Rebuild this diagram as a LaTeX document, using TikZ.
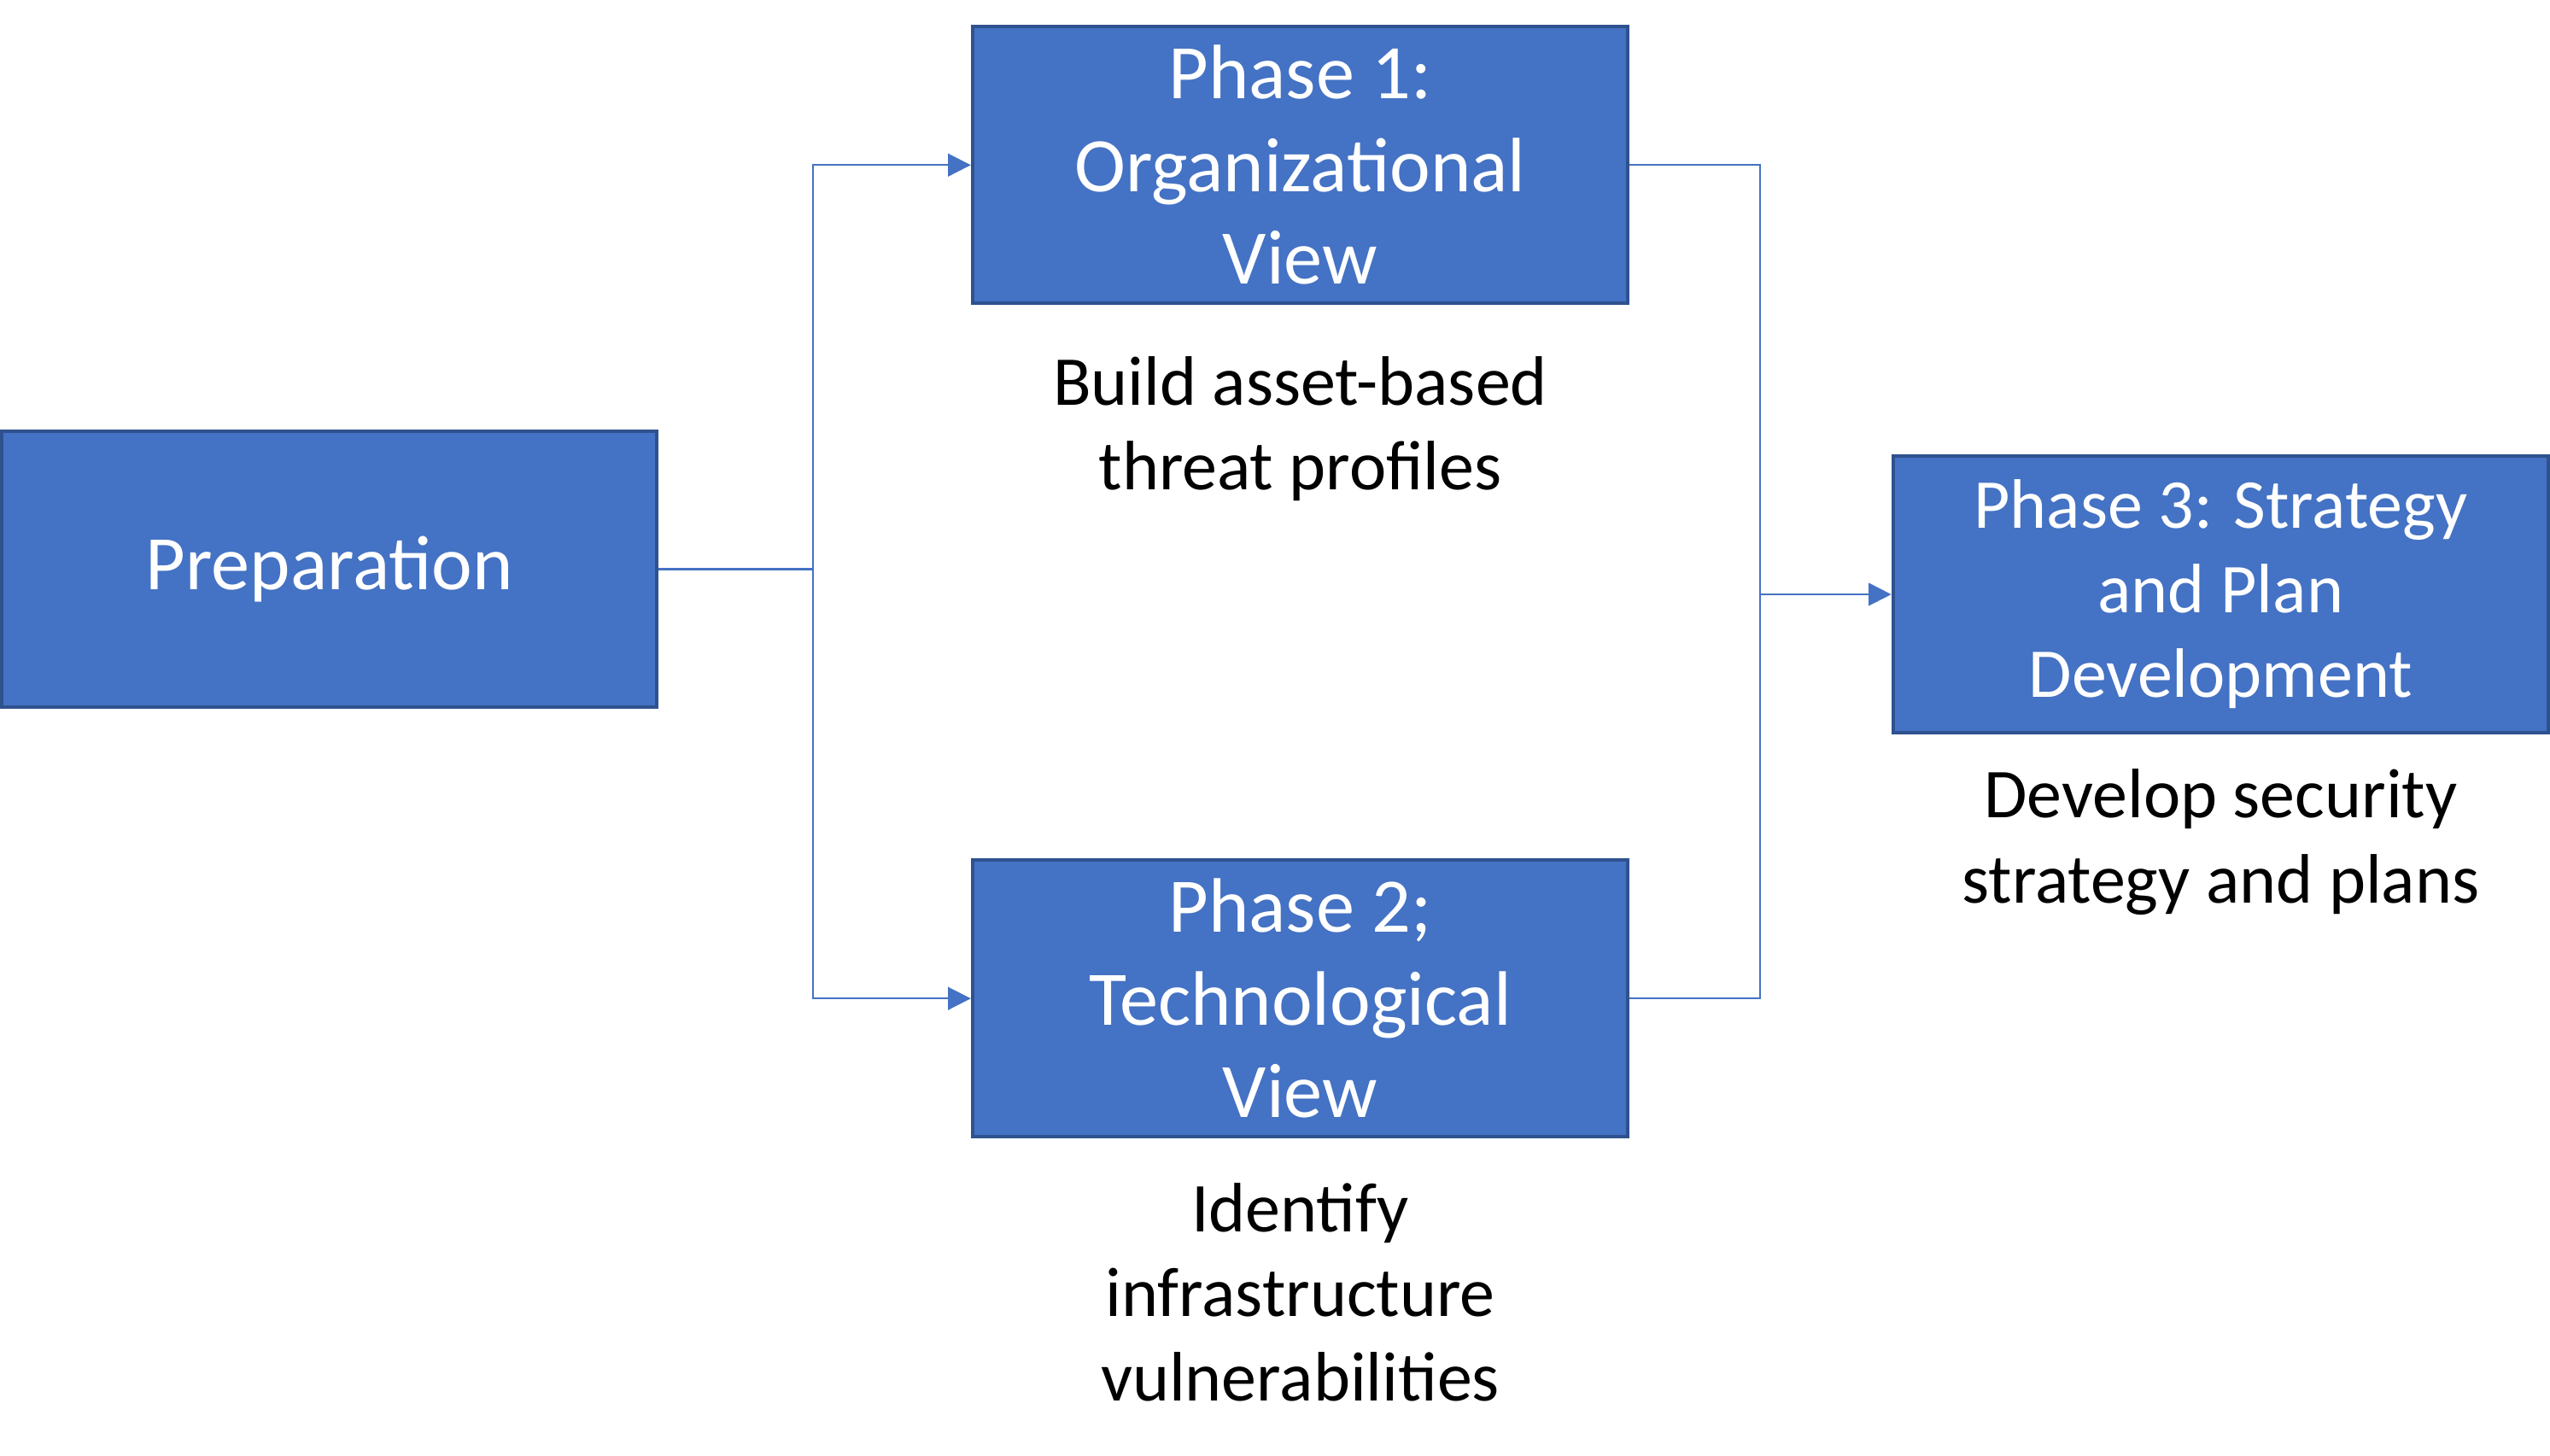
\documentclass[tikz,border=0pt]{standalone}
\usepackage{fontspec}
\setmainfont{Carlito}
\usetikzlibrary{arrows.meta}

\definecolor{boxfill}{HTML}{4472C4}
\definecolor{boxline}{HTML}{2F528F}

\tikzset{
  phase/.style={draw=boxline, fill=boxfill, line width=1.2pt, text=white,
    minimum width=8.06cm, minimum height=3.4cm, inner sep=0pt, align=center,
    font=\fontsize{27}{32.4}\selectfont},
  note/.style={align=center, inner sep=0pt, font=\fontsize{24.5}{29.6}\selectfont},
  link/.style={draw=boxfill, line width=0.6pt},
  tip/.style={-{Triangle[length=0.28cm,width=0.28cm]}}
}

\begin{document}
\begin{tikzpicture}

  \useasboundingbox (0,0) rectangle (31.36,17.906);

  \node[phase] (prep) at (4.05,10.906) {Preparation};
  \node[phase] (p1) at (15.99,15.876) {Phase 1:\\Organizational\\View};
  \node[phase] (p2) at (15.99,5.626) {Phase 2;\\Technological\\View};
  \node[phase, font=\fontsize{24.5}{29.6}\selectfont] (p3) at (27.31,10.596) {Phase 3: Strategy\\and Plan\\Development};

  \node[note] (n1) at (15.99,12.63) {Build asset-based\\threat profiles};
  \node[note] (n2) at (15.99,2.01) {Identify\\infrastructure\\vulnerabilities};
  \node[note] (n3) at (27.31,7.55) {Develop security\\strategy and plans};

  \coordinate (fork) at (10.0,10.906);
  \coordinate (join) at (21.64,10.596);

  \draw[link] (prep.east) -- (fork);
  \draw[link, tip] (fork) |- (p1.west);
  \draw[link, tip] (fork) |- (p2.west);

  \draw[link] (p1.east) -| (join) |- (p2.east);
  \draw[link, tip] (join) -- (p3.west);

\end{tikzpicture}
\end{document}
